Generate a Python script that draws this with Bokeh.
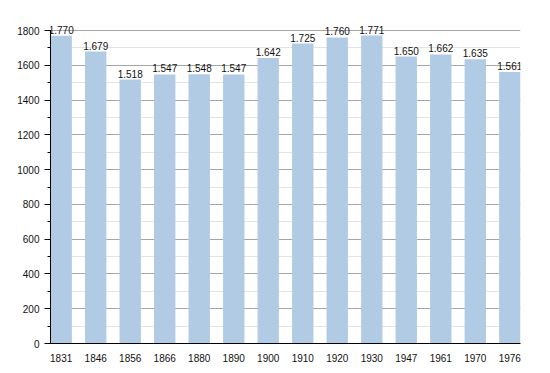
from bokeh.plotting import figure
from bokeh.models import ColumnDataSource, LabelSet, FixedTicker, Range1d
from bokeh.core.properties import value
from bokeh.embed import file_html
from bokeh.resources import INLINE

years = ["1831", "1846", "1856", "1866", "1880", "1890", "1900", "1910", "1920", "1930", "1947", "1961", "1970", "1976"]
population = [1770, 1679, 1518, 1547, 1548, 1547, 1642, 1725, 1760, 1771, 1650, 1662, 1635, 1561]
labels = ["1.770", "1.679", "1.518", "1.547", "1.548", "1.547", "1.642", "1.725", "1.760", "1.771", "1.650", "1.662", "1.635", "1.561"]

xs = list(range(len(years)))
bw = 0.62
src = ColumnDataSource(dict(x=xs, y=population, lab=labels))

# frame: 1800 gridline 30px below top; extend range so labels are not clipped
top_val = 1800 * 343 / 313

p = figure(width=550, height=373, output_backend="svg", toolbar_location=None,
           x_range=Range1d(-bw / 2, len(years) - 1 + bw / 2), y_range=Range1d(0, top_val),
           min_border_left=50, min_border_right=30, min_border_top=0, min_border_bottom=30)
p.outline_line_color = None
p.background_fill_color = "white"

p.vbar(x="x", top="y", width=bw, source=src, fill_color="#b2cbe5", line_color=None)

p.add_layout(LabelSet(x="x", y="y", text="lab", source=src, text_align="center",
                      text_baseline="bottom", y_offset=2, text_font_size="10px",
                      text_font=value("Liberation Sans"), text_color="#111111"))

p.xaxis.ticker = FixedTicker(ticks=xs)
p.xaxis.major_label_overrides = {i: y for i, y in enumerate(years)}
p.xaxis.major_tick_line_color = None
p.xaxis.minor_tick_line_color = None
p.xaxis.axis_line_color = "black"
p.xaxis.major_label_text_font = "Liberation Sans"
p.xaxis.major_label_text_font_size = "10px"
p.xaxis.major_label_text_color = "#111111"
p.xaxis.major_label_standoff = 4
p.xgrid.grid_line_color = None

p.yaxis.ticker = FixedTicker(ticks=list(range(0, 1801, 200)), minor_ticks=list(range(0, 1801, 100)))
p.yaxis.bounds = (0, 1800)
p.yaxis.axis_line_color = "black"
p.yaxis.major_tick_line_color = "black"
p.yaxis.major_tick_out = 6
p.yaxis.major_tick_in = 0
p.yaxis.minor_tick_line_color = "black"
p.yaxis.minor_tick_out = 3
p.yaxis.minor_tick_in = 0
p.yaxis.major_label_text_font = "Liberation Sans"
p.yaxis.major_label_text_font_size = "10px"
p.yaxis.major_label_text_color = "#111111"
p.yaxis.major_label_standoff = 5
p.ygrid.grid_line_color = "#a6a6a6"
p.ygrid.minor_grid_line_color = "#e3e3e3"

open("out.html", "w").write(file_html(p, INLINE))
